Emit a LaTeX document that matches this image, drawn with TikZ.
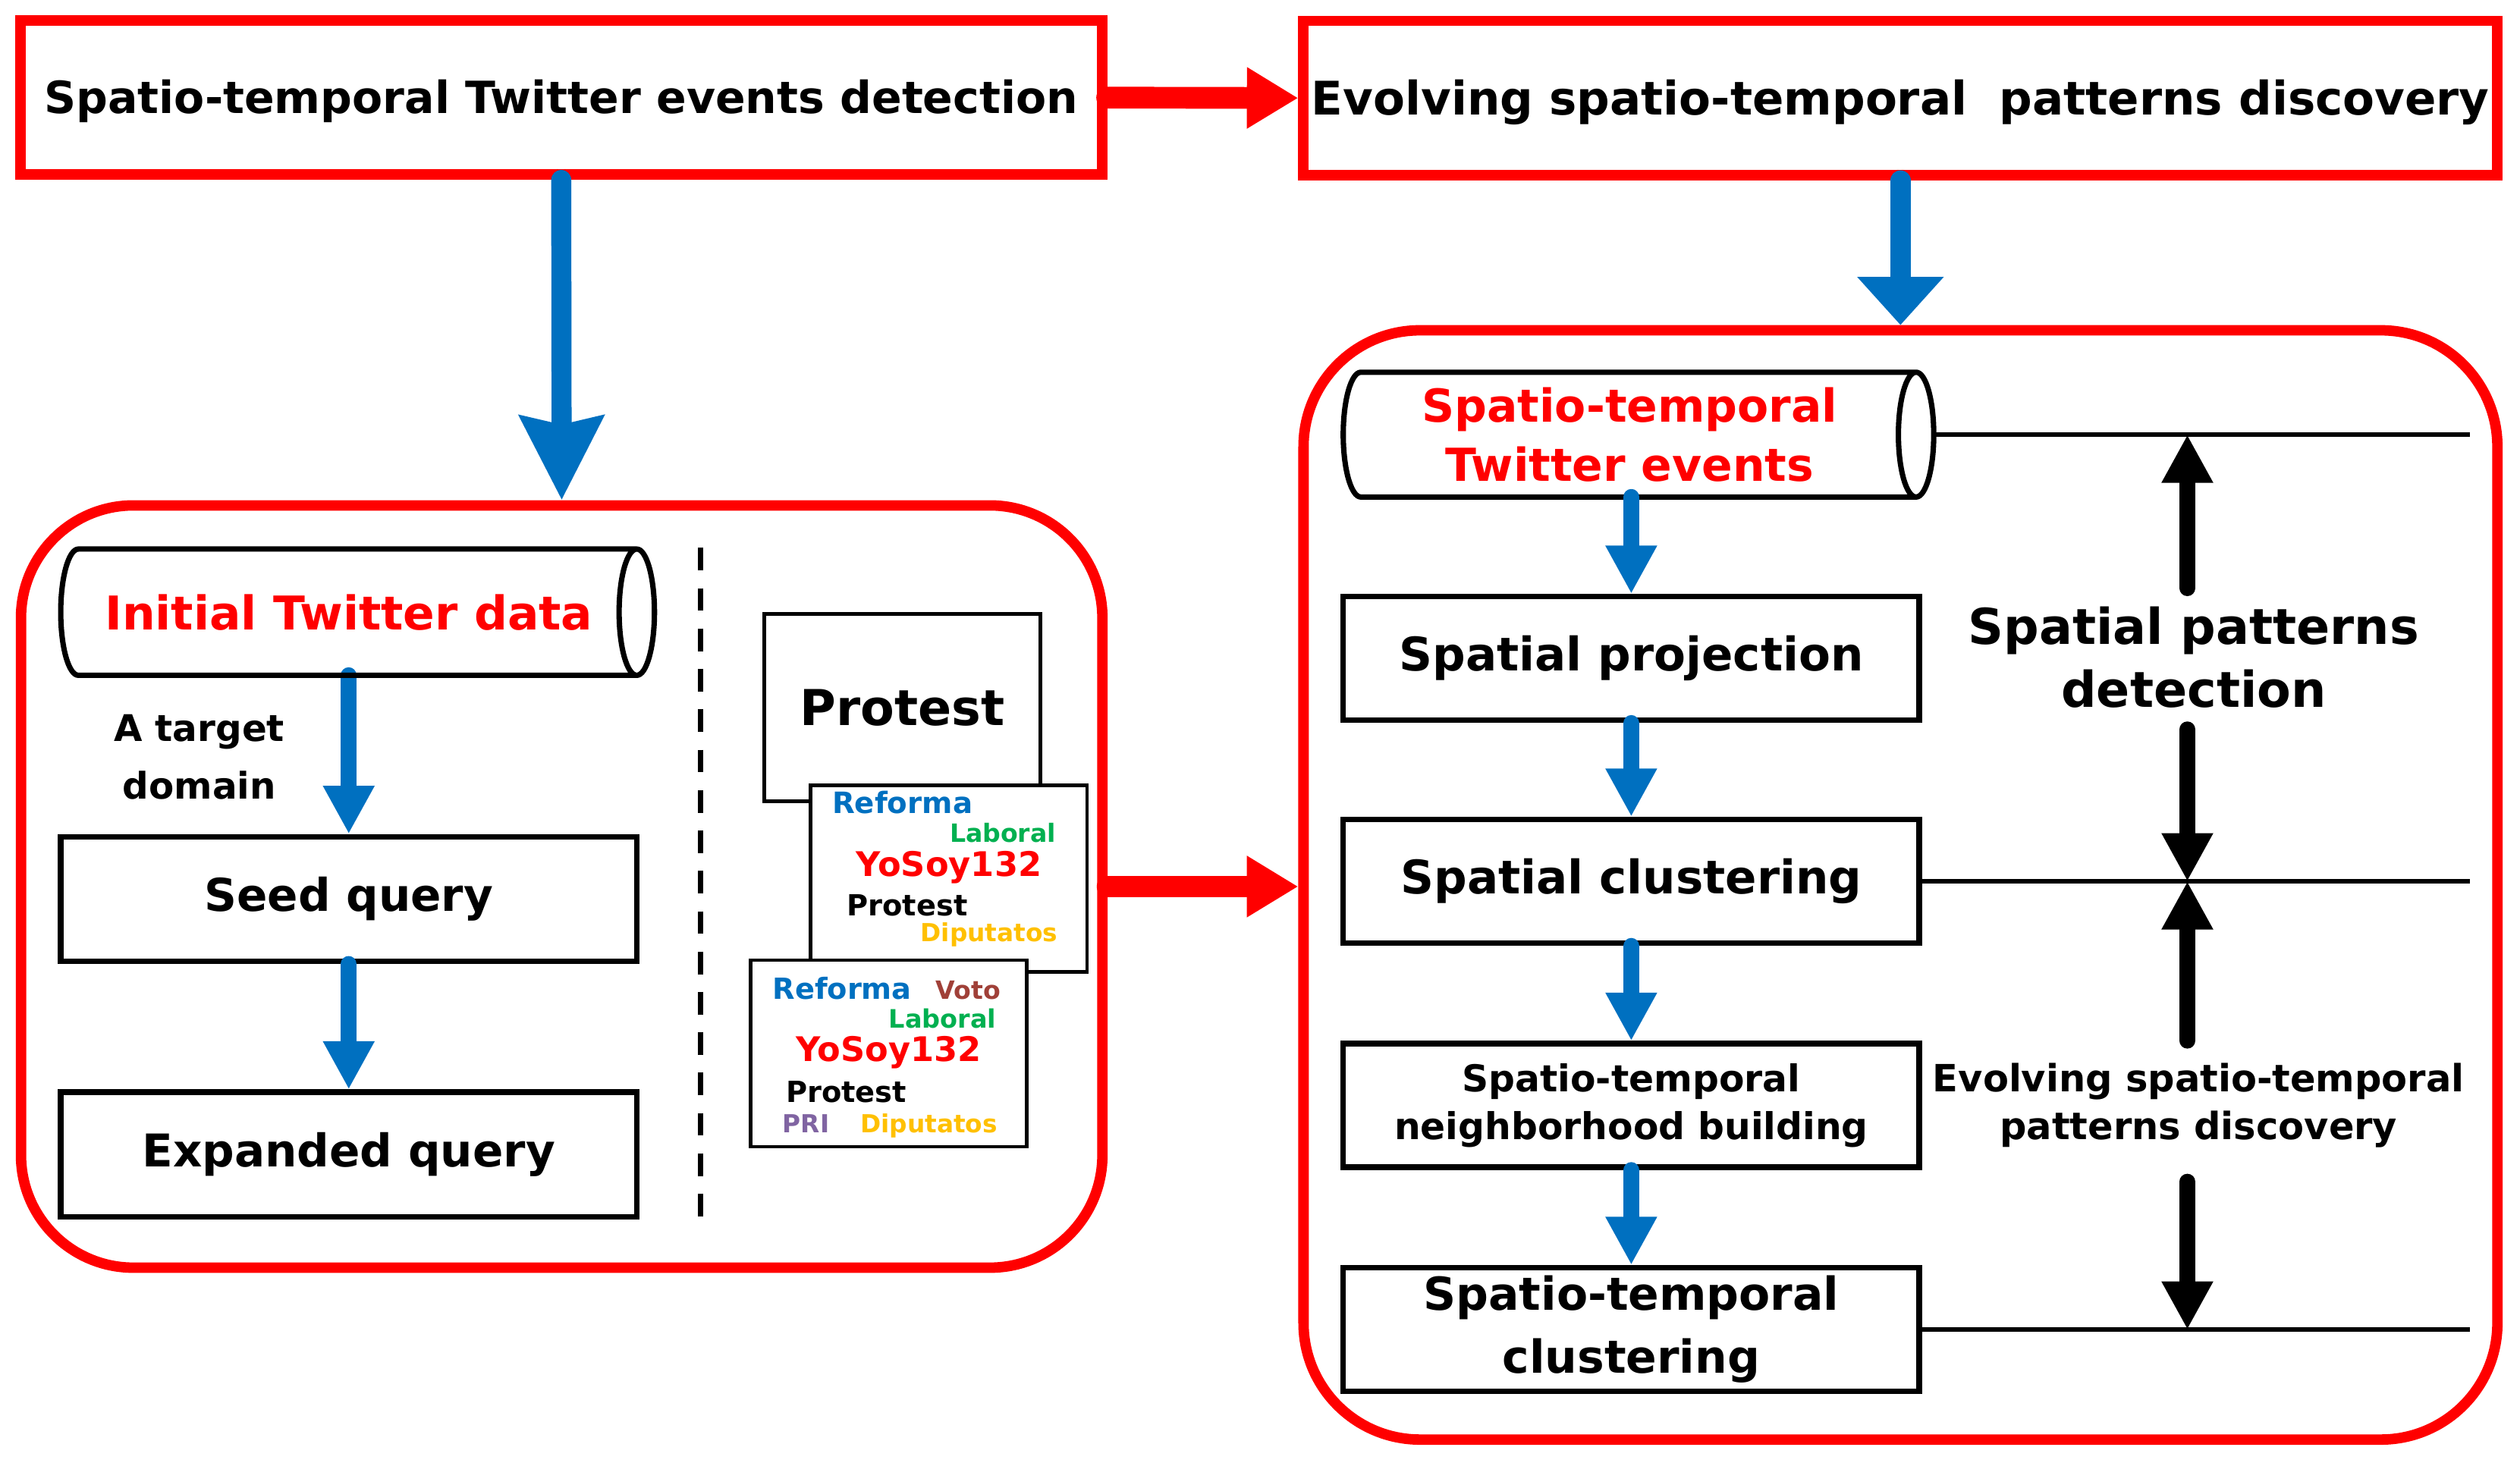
\documentclass[tikz,border=0pt]{standalone}
\usepackage{fontspec}
\setmainfont{DejaVu Sans}
\usepackage{tikz}
\usetikzlibrary{positioning,arrows.meta}

\definecolor{boxred}{RGB}{255,0,0}
\definecolor{flowblue}{RGB}{0,112,192}
\definecolor{wgreen}{RGB}{0,176,80}
\definecolor{wyellow}{RGB}{255,192,0}
\definecolor{wpurple}{RGB}{128,100,162}
\definecolor{wbrown}{RGB}{160,64,56}

\newcommand{\fsz}[2]{\fontsize{#1}{#2}\selectfont\bfseries}
\newcommand{\cylrx}{0.22cm}

\begin{document}
\begin{tikzpicture}[x=0.02cm, y=-0.02cm,
	redbox/.style={draw=boxred, line width=3.7pt, fill=white, inner sep=0pt},
	blackbox/.style={draw=black, line width=2pt, fill=white, inner sep=0pt, align=center, minimum width=7.17cm, minimum height=1.54cm},
	cylbody/.style={inner sep=0pt, outer sep=0pt, align=center, text=boxred},
	cylline/.style={draw=black, line width=1.9pt, line join=round},
	cloud/.style={draw=black, line width=1.25pt, fill=white, inner sep=0pt, minimum width=3.44cm, minimum height=2.32cm},
	redarrow/.style={draw=boxred, line width=7.7pt, line cap=round, -{Triangle[length=0.64cm, width=0.72cm]}},
	bigflow/.style={draw=flowblue, line width=7.1pt, line cap=round, -{Stealth[length=1.04cm, width=1.02cm, inset=0.1cm]}},
	flow/.style={draw=flowblue, line width=5.7pt, line cap=round, -{Triangle[length=0.6cm, width=0.6cm]}},
	updown/.style={draw=black, line width=5.7pt, line cap=round, -{Triangle[length=0.6cm, width=0.6cm]}},
	level/.style={draw=black, line width=1.6pt}]
	\useasboundingbox (0,0) rectangle (1568,912);
	
	\node [redbox, minimum width=13.46cm, minimum height=1.92cm, text depth=0.5pt, font=\fsz{15.7}{19}] (detect) at (349.2,60.75) {Spatio-temporal Twitter events detection};
	\node [redbox, minimum width=14.86cm, minimum height=1.92cm, text depth=0.5pt, font=\fsz{16.4}{19}] (evolve) at (1182.5,61) {Evolving spatio-temporal~ patterns discovery};
	\draw [redarrow] (detect.east) -- (evolve.west);
	
	\node [redbox, rounded corners=1.4cm, minimum width=13.46cm, minimum height=9.49cm] (query) at (349.5,551.75) {};
	\node [redbox, rounded corners=1.45cm, minimum width=14.86cm, minimum height=13.81cm] (pattern) at (1182.5,550.75) {};
	\draw [bigflow] (detect.south) -- (query.north);
	\draw [bigflow, -{Triangle[length=0.6cm, width=1.04cm]}] (evolve.south) -- (pattern.north);
	\draw [redarrow] (query.east) -- (query.east -| pattern.west);
	
	% query expansion
	\node [cylbody, minimum width=7.17cm, minimum height=1.572cm, font=\fsz{16.5}{20}] (initial) at (217,381) {Initial Twitter data};
	\node [blackbox, minimum height=1.55cm, font=\fsz{16}{19}] (seed) at (217,559.5) {Seed query};
	\node [blackbox, minimum height=1.55cm, font=\fsz{16}{19}] (expanded) at (217,718.5) {Expanded query};
	\node [align=center, font=\fsz{13}{20.5}] (domain) at (124,471) {A target\\domain};
	\draw [flow] (seed.north |- initial.south) -- (seed.north);
	\draw [flow] (seed.south) -- (expanded.north);
	
	\coordinate (dash-top) at (436,341);
	\coordinate (dash-bot) at (436,759);
	\draw [line width=1.9pt, dash pattern=on 8pt off 6.3pt] (dash-top) -- (dash-bot);
	
	\node [cloud, minimum height=2.33cm, font=\fsz{17.5}{20}] (topic) at (561.5,440.3) {Protest};
	\node [cloud] (cloud-1) at (590.4,546.8) {};
	\node [cloud] (cloud-2) at (553,655.6) {};
	\foreach \w/\c/\s/\x/\y [count=\i] in {Reforma/flowblue/10.4/561.5/506, Laboral/wgreen/8.9/624/524,
		YoSoy132/boxred/12/590.5/545.5, Protest/black/10.3/564.5/570, Diputatos/wyellow/8.8/615.5/586,
		Reforma/flowblue/10.3/524/622, Voto/wbrown/8.9/602.5/622, Laboral/wgreen/9/586.5/640,
		YoSoy132/boxred/12/553/660.5, Protest/black/10.3/526.5/686, PRI/wpurple/8.8/501.5/705,
		Diputatos/wyellow/8.8/578/705}
	\node [anchor=base, inner sep=0pt, text=\c, font=\fsz{\s}{\s}] (word-\i) at (\x,\y) {\w};
	
	% pattern discovery
	\node [cylbody, minimum width=7.13cm, minimum height=1.554cm, font=\fsz{16.1}{21}] (events) at (1014,270.5) {Spatio-temporal\\Twitter events};
	\foreach \c/\r in {initial/0.786cm, events/0.777cm}
	\draw [cylline] (\c.north east) arc [start angle=90, end angle=-270, x radius=\cylrx, y radius=\r]
		-- ([xshift=\cylrx]\c.north west) arc [start angle=90, end angle=270, x radius=\cylrx, y radius=\r]
		-- (\c.south east);
	\node [blackbox, font=\fsz{16.4}{20}] (proj) at (1015,409.8) {Spatial projection};
	\node [blackbox, font=\fsz{16.4}{20}] (sclust) at (1015,548.5) {Spatial clustering};
	\node [blackbox, font=\fsz{13.1}{17}] (neigh) at (1015,688) {Spatio-temporal\\neighborhood building};
	\node [blackbox, font=\fsz{16.1}{22.3}] (stclust) at (1015,827.5) {Spatio-temporal\\clustering};
	\draw [flow] (proj.north |- events.south) -- (proj.north);
	\foreach \a/\b in {proj/sclust, sclust/neigh, neigh/stclust}
	\draw [flow] (\a.south) -- (\b.north);
	
	\coordinate (lvl-1) at (1537,270.5);
	\coordinate (lvl-2) at (1537,548.5);
	\coordinate (lvl-3) at (1537,827.5);
	\draw [level] ([xshift=\cylrx]events.east) -- (lvl-1);
	\draw [level] (sclust.east) -- (lvl-2);
	\draw [level] (stclust.east) -- (lvl-3);
	
	\node [align=center, font=\fsz{17.5}{22.3}] (spatial) at (1365,409) {Spatial patterns\\detection};
	\node [align=center, font=\fsz{13.3}{17}] (evolving) at (1368,688) {Evolving spatio-temporal\\patterns discovery};
	
	\coordinate (tail-1) at (1361,366);
	\coordinate (tail-2) at (1361,454);
	\coordinate (tail-3) at (1361,647.6);
	\coordinate (tail-4) at (1361,735.5);
	\foreach \t/\l in {1/1, 2/2, 3/2, 4/3}
	\draw [updown] (tail-\t) -- (tail-\t |- lvl-\l);
	
\end{tikzpicture}
\end{document}
